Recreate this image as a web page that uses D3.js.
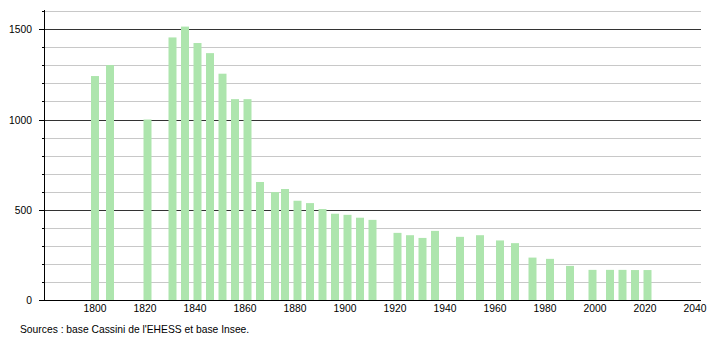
<!DOCTYPE html>
<html><head><meta charset="utf-8">
<script src="https://cdn.jsdelivr.net/npm/d3@7/dist/d3.min.js"></script>
<style>body{margin:0;background:#fff}svg{display:block}text{font-family:"Liberation Sans",Arial,sans-serif;}</style>
</head><body><div id="chart"></div>
<script>
const years = [1800,1806,1821,1831,1836,1841,1846,1851,1856,1861,1866,1872,1876,1881,1886,1891,1896,1901,1906,1911,1921,1926,1931,1936,1946,1954,1962,1968,1975,1982,1990,1999,2006,2011,2016,2021];
const population = [1241,1302,1000,1455,1515,1424,1368,1254,1113,1113,654,598,615,550,537,504,478,472,456,444,372,359,344,383,350,359,330,315,235,228,189,167,167,167,166,166];
const xTicks = [1800,1820,1840,1860,1880,1900,1920,1940,1960,1980,2000,2020,2040];
const yLabels = [0,500,1000,1500];
const sourceText = "Sources : base Cassini de l'EHESS et base Insee.";

const W = 710, H = 340;
const FS = 10.3;
const svg = d3.select("#chart").append("svg").attr("width", W).attr("height", H);
const x = d3.scaleLinear().domain([1779.6, 2042.4]).range([44, 701]);
const y = d3.scaleLinear().domain([0, 1607]).range([300, 10]);

const minor = d3.range(0, 1601, 100);
// gridlines
svg.append("g").selectAll("line").data(minor).join("line")
  .attr("x1", 44).attr("x2", 701)
  .attr("y1", d => Math.round(y(d)) + 0.5).attr("y2", d => Math.round(y(d)) + 0.5)
  .attr("stroke", d => d % 500 === 0 ? "#333" : "#c8c8c8").attr("stroke-width", 1);

// bars
const bw = 8;
svg.append("g").selectAll("rect").data(years).join("rect")
  .attr("x", (d) => x(d) - bw / 2)
  .attr("y", (d, i) => y(population[i]))
  .attr("width", bw)
  .attr("height", (d, i) => y(0) - y(population[i]))
  .attr("fill", "#ade5ad");

// y axis
const ya = svg.append("g");
ya.append("line").attr("x1", 44.5).attr("x2", 44.5).attr("y1", 10).attr("y2", 300).attr("stroke", "#000");
ya.selectAll("line.t").data(minor).join("line").attr("class", "t")
  .attr("x1", d => d % 500 === 0 ? 39 : 42).attr("x2", 44)
  .attr("y1", d => Math.round(y(d)) + 0.5).attr("y2", d => Math.round(y(d)) + 0.5)
  .attr("stroke", "#000");
ya.selectAll("text").data(yLabels).join("text")
  .attr("x", 32).attr("y", d => y(d) + 4)
  .attr("text-anchor", "end").attr("font-size", FS).attr("fill", "#000")
  .text(d => d);

// x axis
svg.append("line").attr("x1", 39).attr("x2", 701).attr("y1", 300.5).attr("y2", 300.5).attr("stroke", "#000");
svg.append("g").selectAll("text").data(xTicks).join("text")
  .attr("x", d => x(d)).attr("y", 312)
  .attr("text-anchor", "middle").attr("font-size", FS).attr("fill", "#000")
  .text(d => d);

svg.append("text").attr("x", 20).attr("y", 333).attr("font-size", FS).attr("fill", "#000").text(sourceText);
</script></body></html>
